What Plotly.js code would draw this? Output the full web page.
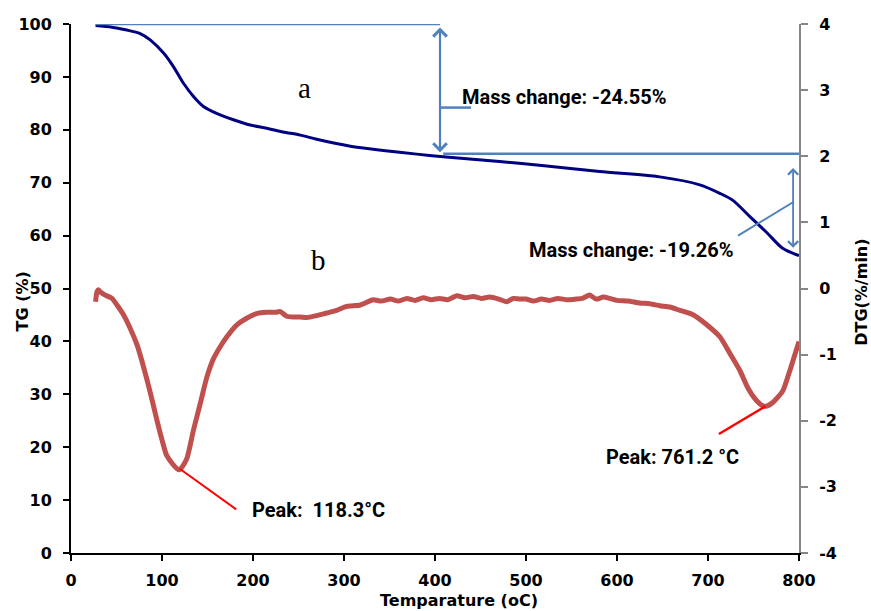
<!DOCTYPE html>
<html>
<head>
<meta charset="utf-8">
<script src="https://cdn.plot.ly/plotly-3.0.1.min.js"></script>
<style>
  html, body { margin: 0; padding: 0; background: #ffffff; }
  #chart { width: 871px; height: 611px; }
</style>
</head>
<body>
<div id="chart"></div>
<script>
// TG curve (mass remaining, %) against temperature (°C)
const tgTemp = [27, 45, 60, 76, 87, 101.7, 112.7, 123.6, 134.6, 145.6, 160, 178.5, 197, 215, 233, 252, 270, 307, 343, 380, 409, 471, 520, 581, 647, 691, 713, 727, 746, 765, 782, 800];
const tgValues = [99.7, 99.4, 98.9, 98.2, 97.0, 94.5, 91.9, 88.8, 86.3, 84.4, 83.1, 81.9, 80.9, 80.3, 79.6, 79.0, 78.2, 76.9, 76.1, 75.4, 74.9, 74.0, 73.2, 72.1, 71.1, 69.6, 68.0, 66.7, 63.6, 60.5, 57.6, 56.2];

// DTG curve (%/min) against temperature (°C)
const dtgTemp = [27, 28.5, 30, 33, 37.6, 45, 50.5, 57.8, 65, 72.5, 78, 83.5, 89, 94.4, 100, 105, 112.7, 118.3, 121, 127.4, 134.6, 142, 149.3, 156.6, 164, 171.3, 182.3, 193, 204, 215, 225, 230, 237, 245, 252, 259, 270, 281, 292, 303, 318, 332, 341, 351, 360, 369, 378, 387, 396, 405, 414, 424, 433, 442, 451, 460, 470, 479, 486, 493, 500, 508, 517, 526, 535, 545, 555, 562, 570, 577, 585, 592, 600, 612, 625, 636, 647, 658, 669, 684, 698, 713, 724, 735, 744, 753, 761.2, 766, 771.5, 777, 782.5, 790, 795, 800];
const dtgValues = [-0.20, -0.05, -0.02, -0.06, -0.10, -0.15, -0.25, -0.40, -0.60, -0.85, -1.10, -1.38, -1.68, -1.99, -2.29, -2.52, -2.67, -2.74, -2.72, -2.57, -2.14, -1.74, -1.34, -1.06, -0.88, -0.73, -0.55, -0.45, -0.38, -0.36, -0.36, -0.35, -0.42, -0.43, -0.43, -0.44, -0.41, -0.37, -0.33, -0.27, -0.25, -0.17, -0.19, -0.16, -0.19, -0.15, -0.18, -0.14, -0.17, -0.15, -0.17, -0.11, -0.14, -0.12, -0.15, -0.13, -0.16, -0.20, -0.15, -0.16, -0.16, -0.19, -0.16, -0.18, -0.15, -0.17, -0.16, -0.15, -0.10, -0.16, -0.13, -0.15, -0.18, -0.19, -0.22, -0.23, -0.26, -0.28, -0.33, -0.40, -0.54, -0.73, -0.98, -1.24, -1.51, -1.69, -1.78, -1.77, -1.72, -1.64, -1.54, -1.24, -1.02, -0.80];

// Axis ticks
const xTicks = [0, 100, 200, 300, 400, 500, 600, 700, 800];
const tgTicks = [0, 10, 20, 30, 40, 50, 60, 70, 80, 90, 100];
const dtgTicks = [-4, -3, -2, -1, 0, 1, 2, 3, 4];
const dtgTickText = ['-4', '-3', '-2', '-1', '0', '1', '2', '3', '4'];

// Mass-change steps
const massStart = 100;
const massChange1 = 24.55;
const massChange2 = 19.26;
const massAfterStep1 = massStart - massChange1;
const massEnd = massAfterStep1 - massChange2;

// DTG peaks (temperature °C, DTG %/min)
const peak1 = { t: 118.3, v: -2.73, label: 'Peak:  118.3°C' };
const peak2 = { t: 761.2, v: -1.78, label: 'Peak: 761.2 °C' };

const bracketBlue = '#4F81BD';
const calloutFont = { family: 'Roboto, Carlito, Calibri, sans-serif', size: 20, color: '#000000', weight: 700 };
const axisTitleFont = { family: 'DejaVu Sans, Arial, sans-serif', size: 16, color: '#000000', weight: 'bold' };
const tickFont = { family: 'DejaVu Sans, Arial, sans-serif', size: 16, color: '#000000', weight: 'bold' };

const traces = [
  {
    x: tgTemp, y: tgValues, type: 'scatter', mode: 'lines', yaxis: 'y',
    line: { color: '#000080', width: 3, shape: 'spline', smoothing: 0.8 }, hoverinfo: 'skip'
  },
  {
    x: dtgTemp, y: dtgValues, type: 'scatter', mode: 'lines', yaxis: 'y2',
    line: { color: '#C0504D', width: 5, shape: 'spline', smoothing: 0.6 }, hoverinfo: 'skip'
  }
];

const lineShape = (x0, y0, x1, y1, color, width, yref) => ({
  type: 'line', xref: 'x', yref: yref || 'y', x0, y0, x1, y1,
  line: { color, width }
});

const shapes = [
  // reference levels for the first mass-change step
  lineShape(27, massStart, 405.5, massStart, bracketBlue, 2.5),
  lineShape(409, massAfterStep1, 800, massAfterStep1, bracketBlue, 2.5),
  // leader to the first callout
  lineShape(405.5, 84.2, 439.6, 84.2, bracketBlue, 2.5),
  // leader to the second callout
  lineShape(733, 60.0, 794.3, 66.4, bracketBlue, 2),
  // peak leaders
  lineShape(peak1.t + 1.5, peak1.v, 181.5, -3.34, '#FF0000', 2, 'y2'),
  lineShape(peak2.t + 2, peak2.v, 712, -2.2, '#FF0000', 2.5, 'y2')
];

const annotations = [
  // double arrows spanning each mass-change step
  {
    xref: 'x', yref: 'y', axref: 'x', ayref: 'y',
    x: 405.5, y: massAfterStep1 + 0.3, ax: 405.5, ay: massStart - 0.4,
    text: '', showarrow: true, arrowside: 'end+start',
    arrowhead: 4, startarrowhead: 4, arrowsize: 1.2, startarrowsize: 1.2,
    arrowwidth: 2.2, arrowcolor: bracketBlue, standoff: 0, startstandoff: 0
  },
  {
    xref: 'x', yref: 'y', axref: 'x', ayref: 'y',
    x: 793.5, y: massEnd + 1.5, ax: 793.5, ay: massAfterStep1 - 2.4,
    text: '', showarrow: true, arrowside: 'end+start',
    arrowhead: 4, startarrowhead: 4, arrowsize: 1.1, startarrowsize: 1.1,
    arrowwidth: 1.8, arrowcolor: bracketBlue, standoff: 0, startstandoff: 0
  },
  // callouts
  {
    xref: 'x', yref: 'y', x: 427.5, y: 86.2, xanchor: 'left', yanchor: 'middle',
    text: 'Mass change: -' + massChange1.toFixed(2) + '%', showarrow: false, font: calloutFont
  },
  {
    xref: 'x', yref: 'y', x: 501, y: 57.3, xanchor: 'left', yanchor: 'middle',
    text: 'Mass change: -' + massChange2.toFixed(2) + '%', showarrow: false, font: calloutFont
  },
  {
    xref: 'x', yref: 'y', x: 196.9, y: 8.1, xanchor: 'left', yanchor: 'middle',
    text: peak1.label, showarrow: false, font: calloutFont
  },
  {
    xref: 'x', yref: 'y', x: 585.6, y: 18.1, xanchor: 'left', yanchor: 'middle',
    text: peak2.label, showarrow: false, font: calloutFont
  },
  // curve labels
  {
    xref: 'x', yref: 'y', x: 257, y: 87.9, xanchor: 'center', yanchor: 'middle',
    text: 'a', showarrow: false,
    font: { family: 'Liberation Serif, Times New Roman, serif', size: 29, color: '#000000' }
  },
  {
    xref: 'x', yref: 'y', x: 271.6, y: 55.4, xanchor: 'center', yanchor: 'middle',
    text: 'b', showarrow: false,
    font: { family: 'Liberation Serif, Times New Roman, serif', size: 29, color: '#000000' }
  },
  // axis titles
  {
    xref: 'paper', yref: 'paper', x: -0.067, y: 0.476, xanchor: 'center', yanchor: 'middle',
    text: 'TG (%)', textangle: -90, showarrow: false, font: axisTitleFont
  },
  {
    xref: 'paper', yref: 'paper', x: 1.086, y: 0.493, xanchor: 'center', yanchor: 'middle',
    text: 'DTG(%/min)', textangle: -90, showarrow: false, font: axisTitleFont
  },
  {
    xref: 'paper', yref: 'paper', x: 0.533, y: -0.1096, xanchor: 'center', yanchor: 'bottom',
    borderpad: 0,
    text: 'Temparature (oC)', showarrow: false, font: axisTitleFont
  }
];

const layout = {
  width: 871, height: 611,
  margin: { l: 71, r: 72, t: 24, b: 58, pad: 0 },
  paper_bgcolor: '#ffffff', plot_bgcolor: '#ffffff',
  showlegend: false,
  xaxis: {
    range: [0, 800], tickvals: xTicks, ticktext: xTicks.map(String),
    showgrid: false, zeroline: false,
    showline: true, linecolor: '#000000', linewidth: 2,
    ticks: 'outside', ticklen: 6, tickwidth: 2, tickcolor: '#000000',
    tickfont: tickFont, ticklabelstandoff: 6
  },
  yaxis: {
    range: [0, 100], tickvals: tgTicks, ticktext: tgTicks.map(String),
    showgrid: false, zeroline: false,
    showline: true, linecolor: '#000000', linewidth: 2,
    ticks: 'outside', ticklen: 6, tickwidth: 2, tickcolor: '#000000',
    tickfont: tickFont, ticklabelstandoff: 8
  },
  yaxis2: {
    range: [-4, 4], overlaying: 'y', side: 'right',
    tickvals: dtgTicks, ticktext: dtgTickText,
    showgrid: false, zeroline: false,
    showline: true, linecolor: '#868686', linewidth: 2,
    ticks: 'outside', ticklen: 7, tickwidth: 2, tickcolor: '#868686',
    tickfont: tickFont, ticklabelstandoff: 8
  },
  shapes: shapes,
  annotations: annotations
};

Plotly.newPlot('chart', traces, layout, { staticPlot: true, displayModeBar: false });
</script>
</body>
</html>
